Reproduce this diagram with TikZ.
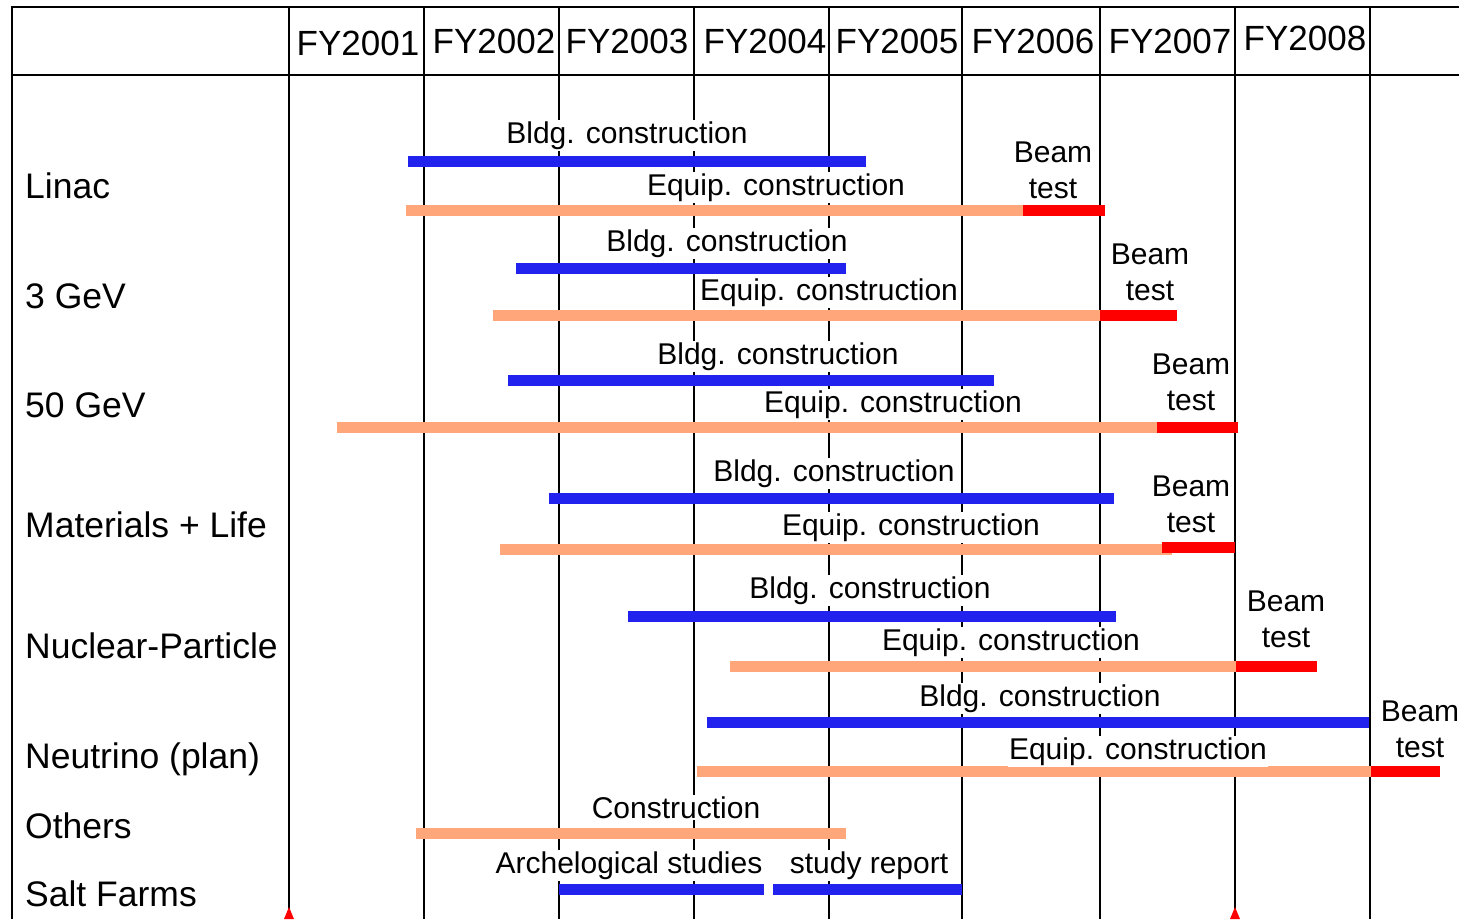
\documentclass[tikz,border=0pt]{standalone}
\usepackage{fontspec}
\setmainfont{Liberation Sans}
\usepackage{xcolor}
\usepackage{tikz}
\definecolor{bldgblue}{RGB}{34,34,238}
\definecolor{equiporange}{RGB}{255,166,122}
\definecolor{beamred}{RGB}{255,0,0}
\newcommand{\yearfont}{\fontsize{35}{42}\selectfont}
\newcommand{\rowfont}{\fontsize{35.5}{42}\selectfont}
\newcommand{\barfont}{\fontsize{30}{36}\selectfont}

\begin{document}
\begin{tikzpicture}[x=1pt,y=-1pt,
    gridline/.style={black,line width=2.6pt},
    bldg/.style={bldgblue,line width=11pt},
    equip/.style={equiporange,line width=11pt},
    beam/.style={beamred,line width=11pt},
    yearlbl/.style={anchor=base,inner sep=0pt,font=\yearfont},
    rowlbl/.style={anchor=base west,inner sep=0pt,font=\rowfont},
    barlbl/.style={anchor=base,fill=white,inner sep=1.5pt,font=\barfont},
    beamlbl/.style={fill=white,inner sep=1.5pt,align=center,font=\barfont}]
\useasboundingbox (0,0) rectangle (1459,919);

\begin{scope}
    \draw[gridline] (1459,7) -- (12,7) -- (12,919);
    \draw[gridline] (12,75) -- (1459,75);
    \draw[gridline] (289,7) -- (289,919);
    \draw[gridline] (424,7) -- (424,919);
    \draw[gridline] (559,7) -- (559,919);
    \draw[gridline] (694,7) -- (694,919);
    \draw[gridline] (829,7) -- (829,919);
    \draw[gridline] (962,7) -- (962,919);
    \draw[gridline] (1100,7) -- (1100,919);
    \draw[gridline] (1235,7) -- (1235,919);
    \draw[gridline] (1370,7) -- (1370,919);
    \fill[beamred] (284,919) -- (289,907) -- (294,919) -- cycle;
    \fill[beamred] (1230,919) -- (1235,907) -- (1240,919) -- cycle;
\end{scope}

\node[yearlbl] (fy1) at (358,55) {FY2001};
\node[yearlbl] (fy2) at (494,53) {FY2002};
\node[yearlbl] (fy3) at (627,53) {FY2003};
\node[yearlbl] (fy4) at (765,53) {FY2004};
\node[yearlbl] (fy5) at (897,53) {FY2005};
\node[yearlbl] (fy6) at (1033,53) {FY2006};
\node[yearlbl] (fy7) at (1170,53) {FY2007};
\node[yearlbl] (fy8) at (1305,50) {FY2008};

\node[rowlbl] (linac) at (25,198) {Linac};
\node[rowlbl] (gev3) at (25,308) {3 GeV};
\node[rowlbl] (gev50) at (25,417) {50 GeV};
\node[rowlbl] (mlf) at (25,537) {Materials + Life};
\node[rowlbl] (nucpart) at (25,658) {Nuclear-Particle};
\node[rowlbl] (neutrino) at (25,768) {Neutrino (plan)};
\node[rowlbl] (others) at (25,838) {Others};
\node[rowlbl] (salt) at (25,906) {Salt Farms};

\begin{scope}
    \draw[bldg] (408,161) -- (866,161);
    \draw[equip] (406,210) -- (1023,210);
    \draw[beam] (1023,210) -- (1105,210);

    \draw[bldg] (516,268) -- (846,268);
    \draw[equip] (493,315) -- (1100,315);
    \draw[beam] (1100,315) -- (1177,315);

    \draw[bldg] (508,380) -- (994,380);
    \draw[equip] (337,427) -- (1157,427);
    \draw[beam] (1157,427) -- (1238,427);

    \draw[bldg] (549,498) -- (1114,498);
    \draw[equip] (500,549) -- (1172,549);
    \draw[beam] (1162,547) -- (1235,547);

    \draw[bldg] (628,616) -- (1116,616);
    \draw[equip] (730,666) -- (1236,666);
    \draw[beam] (1236,666) -- (1317,666);

    \draw[bldg] (707,722) -- (1369,722);
    \draw[equip] (697,771) -- (1371,771);
    \draw[beam] (1371,771) -- (1440,771);

    \draw[equip] (416,833) -- (846,833);

    \draw[bldg] (559,889) -- (764,889);
    \draw[bldg] (773,889) -- (962,889);
\end{scope}

\node[barlbl] (linacbldg) at (627,143) {Bldg. construction};
\node[barlbl] (linacequip) at (776,195) {Equip. construction};
\node[beamlbl] (linacbeam) at (1053,170) {Beam\\test};

\node[barlbl] (gev3bldg) at (727,251) {Bldg. construction};
\node[barlbl] (gev3equip) at (829,300) {Equip. construction};
\node[beamlbl] (gev3beam) at (1150,272) {Beam\\test};

\node[barlbl] (gev50bldg) at (778,364) {Bldg. construction};
\node[barlbl] (gev50equip) at (893,412) {Equip. construction};
\node[beamlbl] (gev50beam) at (1191,382) {Beam\\test};

\node[barlbl] (mlfbldg) at (834,481) {Bldg. construction};
\node[barlbl] (mlfequip) at (911,535) {Equip. construction};
\node[beamlbl] (mlfbeam) at (1191,504) {Beam\\test};

\node[barlbl] (nucbldg) at (870,598) {Bldg. construction};
\node[barlbl] (nucequip) at (1011,650) {Equip. construction};
\node[beamlbl] (nucbeam) at (1286,619) {Beam\\test};

\node[barlbl] (neubldg) at (1040,706) {Bldg. construction};
\node[barlbl] (neuequip) at (1138,759) {Equip. construction};
\node[beamlbl] (neubeam) at (1420,729) {Beam\\test};

\node[barlbl] (othcons) at (676,818) {Construction};
\node[barlbl] (saltarch) at (629,873) {Archelogical studies};
\node[barlbl] (saltrep) at (869,873) {study report};
\end{tikzpicture}
\end{document}
